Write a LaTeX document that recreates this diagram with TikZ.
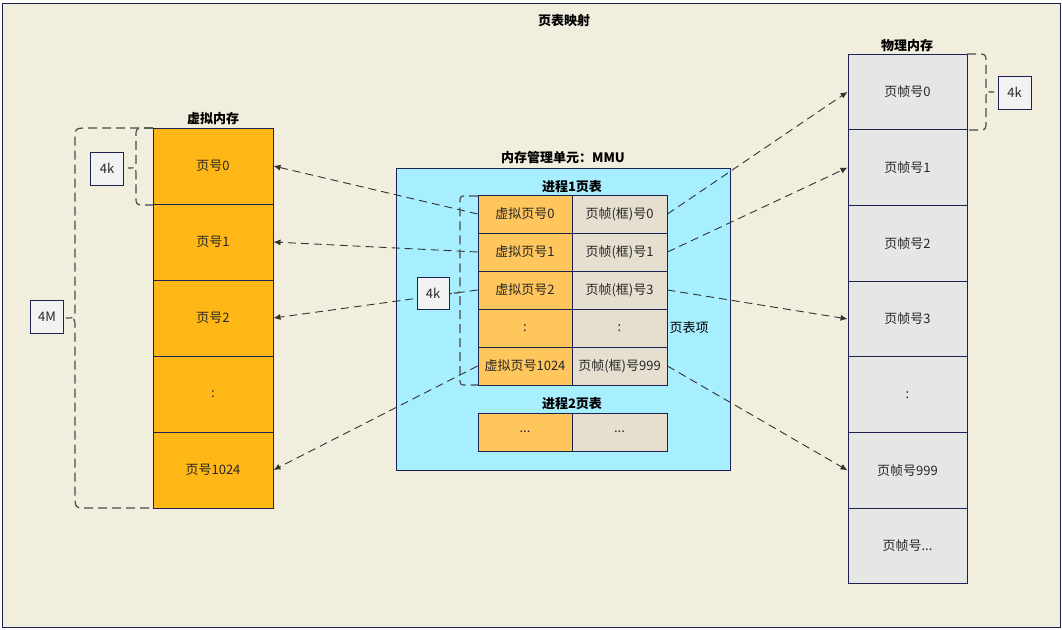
\documentclass[tikz,border=0pt]{standalone}
\usepackage{fontspec}
\setmainfont{Noto Sans CJK SC}
\usetikzlibrary{arrows.meta}

\definecolor{paper}{HTML}{F2EEDD}
\definecolor{navy}{HTML}{1B2150}
\definecolor{vorange}{HTML}{FEB716}
\definecolor{torange}{HTML}{FFC65E}
\definecolor{tbeige}{HTML}{E6DFD0}
\definecolor{mmucyan}{HTML}{A7EEFF}
\definecolor{pgray}{HTML}{E6E6E6}
\definecolor{kfill}{HTML}{F2F2F2}
\definecolor{brk}{HTML}{4A4A4A}

\newcommand{\tdots}{...}

\tikzset{
  cell/.style={draw=navy, line width=0.9pt, inner sep=0pt, text=black!85},
  vpage/.style={cell, fill=vorange, minimum width=120pt, minimum height=76pt},
  ppage/.style={cell, fill=pgray, minimum width=119pt, minimum height=75.7pt},
  vcell/.style={cell, fill=torange, minimum width=94pt, minimum height=38pt},
  fcell/.style={cell, fill=tbeige, minimum width=95pt, minimum height=38pt},
  kbox/.style={cell, fill=kfill, minimum size=33pt},
  title/.style={font=\fontsize{13}{15}\selectfont\bfseries, inner sep=0pt},
  link/.style={draw=black!80, line width=0.9pt, dash pattern=on 8pt off 5pt, -{Latex[length=7pt,width=6pt]}},
  bracket/.style={draw=brk, line width=1.2pt, dash pattern=on 9pt off 5pt},
}

\begin{document}
\begin{tikzpicture}[x=1pt, y=-1pt, font=\fontsize{13}{15}\selectfont]
\useasboundingbox (0,0) rectangle (1062,629);
\draw[navy, fill=paper, line width=0.9pt] (2,3) rectangle (1060,627);
\node[title] (maintitle) at (564,21) {页表映射};

% virtual memory
\node[title] (vtitle) at (213,119) {虚拟内存};
\foreach \t [count=\i from 0] in {页号0,页号1,页号2,:,页号1024}
  \node[vpage] (v\i) at (213,{166+76*\i}) {\t};

% physical memory
\node[title] (ptitle) at (907,46) {物理内存};
\foreach \t [count=\i from 0] in {页帧号0,页帧号1,页帧号2,页帧号3,:,页帧号999,页帧号\tdots}
  \node[ppage] (p\i) at (907.5,{91.85+75.7*\i}) {\t};

% MMU
\node[title] (mmutitle) at (563,158) {内存管理单元：MMU};
\node[cell, fill=mmucyan, minimum width=334pt, minimum height=302pt] (mmu) at (563,319) {};
\node[title] (tab1) at (572,187) {进程1页表};
\foreach \a/\b [count=\i from 0] in {虚拟页号0/页帧(框)号0,虚拟页号1/页帧(框)号1,虚拟页号2/页帧(框)号3,:/:,虚拟页号1024/页帧(框)号999}{
  \node[vcell] (t\i) at (525,{214+38*\i}) {\a};
  \node[fcell] (f\i) at (619.5,{214+38*\i}) {\b};
}
\node[inner sep=0pt] (entry) at (689,328) {页表项};
\node[title] (tab2) at (572,404) {进程2页表};
\node[vcell] (s0) at (525,432) {...};
\node[fcell] (s1) at (619.5,432) {...};

% mappings
\draw[link] (t0.west) -- (v0.east);
\draw[link] (t1.west) -- (v1.east);
\draw[link] (t2.west) -- (v2.east);
\draw[link] (t4.west) -- (v4.east);
\draw[link] (f0.east) -- (p0.west);
\draw[link] (f1.east) -- (p1.west);
\draw[link] (f2.east) -- (p3.west);
\draw[link] (f4.east) -- (p5.west);

% braces
\draw[bracket] (153,128) -- (145,128) .. controls (136,128) .. (136,137) -- (136,160)
  .. controls (136,168) .. (128,168) .. controls (136,168) .. (136,176) -- (136,196)
  .. controls (136,205) .. (145,205) -- (153,205);
\draw[bracket] (153,128) -- (88,128) .. controls (75,128) .. (75,141) -- (75,308)
  .. controls (75,318) .. (66,318) .. controls (75,318) .. (75,328) -- (75,495)
  .. controls (75,508) .. (88,508) -- (153,508);
\draw[bracket] (478,196) -- (467,196) .. controls (460,196) .. (460,203) -- (460,286)
  .. controls (460,293) .. (454,293) .. controls (460,293) .. (460,300) -- (460,378)
  .. controls (460,385) .. (467,385) -- (478,385);
\draw[bracket] (967,54) -- (977,54) .. controls (986,54) .. (986,63) -- (986,85)
  .. controls (986,92) .. (994,92) .. controls (986,92) .. (986,99) -- (986,121)
  .. controls (986,130) .. (977,130) -- (967,130);

% sizes
\node[kbox] (kv) at (107,168.5) {4k};
\node[kbox] (km) at (47,317) {4M};
\node[kbox, minimum size=32pt] (kt) at (433,293) {4k};
\node[kbox] (kp) at (1014.5,92.5) {4k};
\end{tikzpicture}
\end{document}
